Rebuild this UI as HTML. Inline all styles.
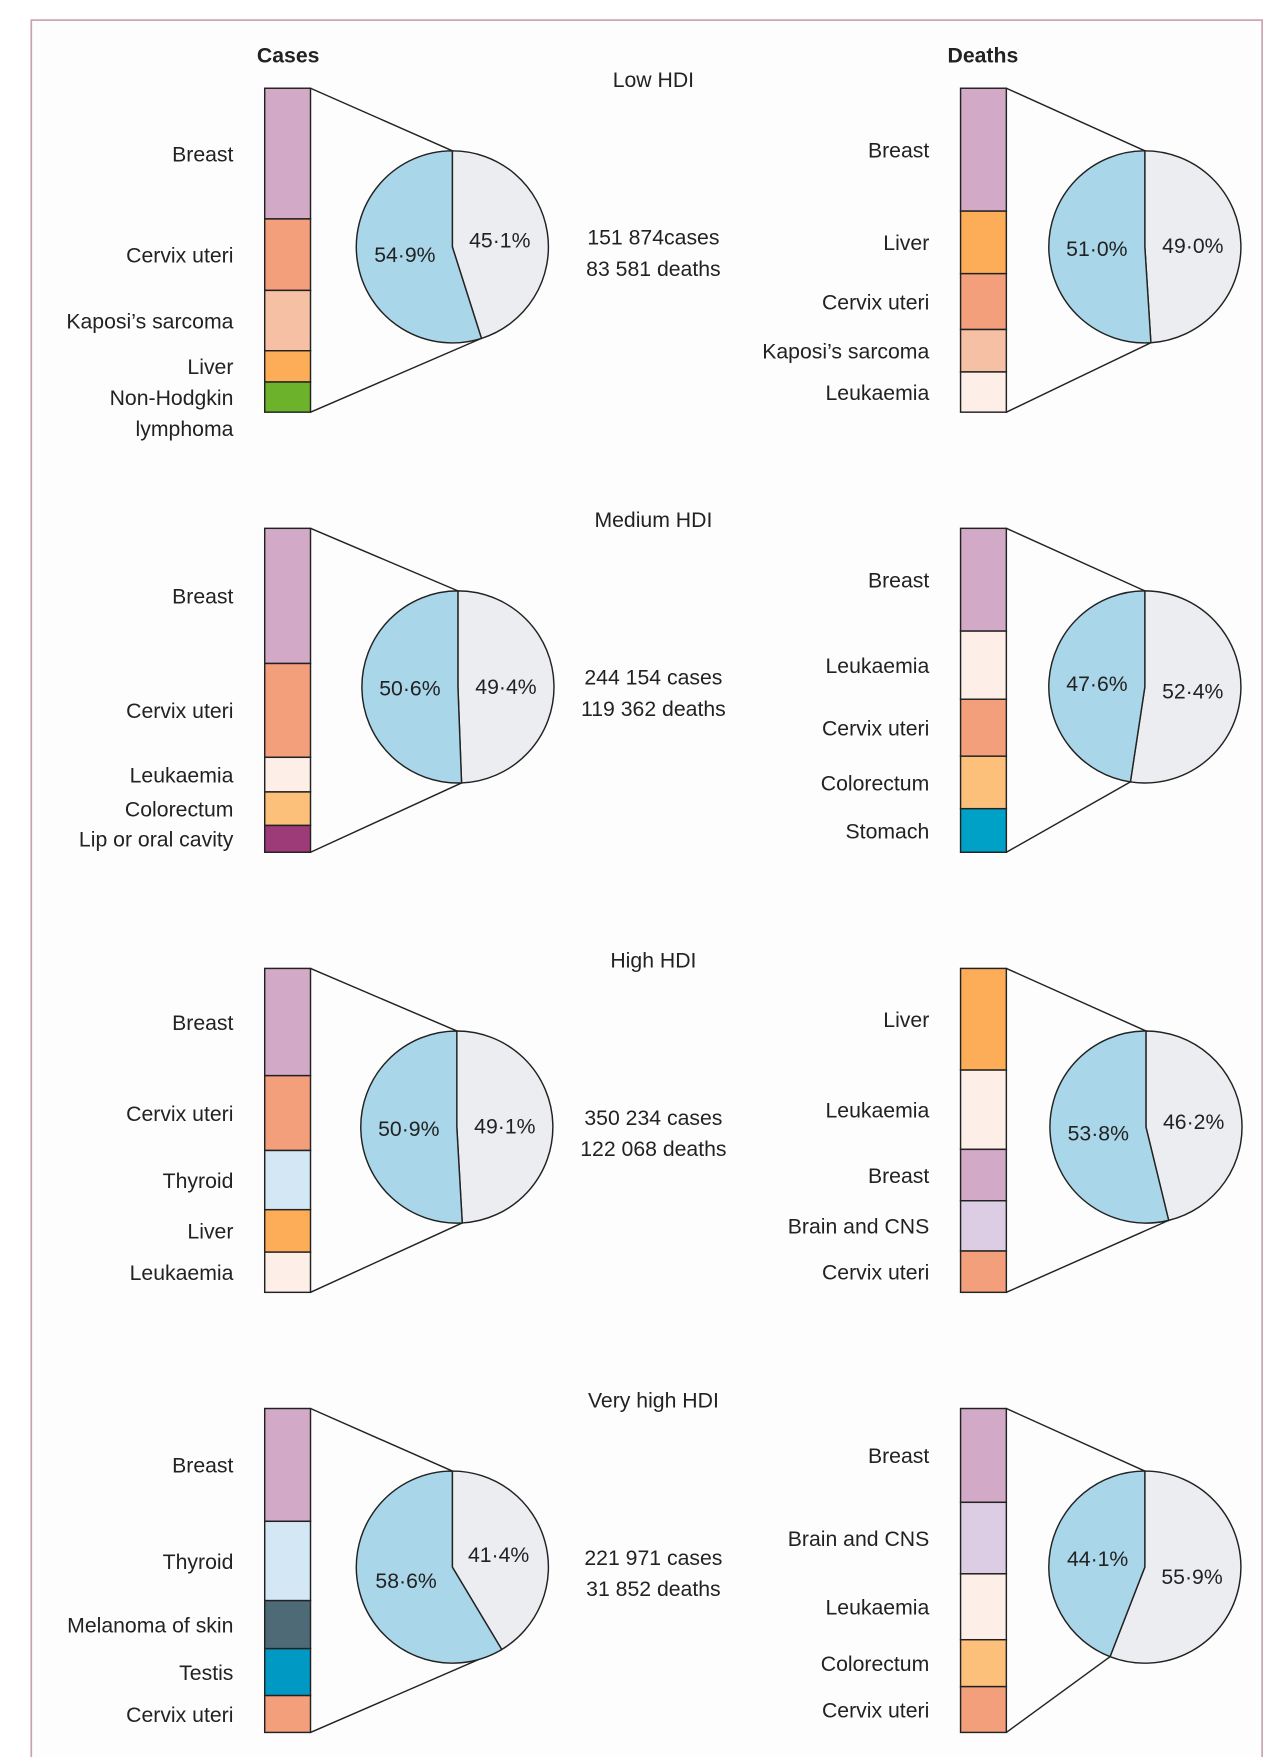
<!DOCTYPE html>
<html><head><meta charset="utf-8"><style>
html,body{margin:0;padding:0;background:#fff;}
svg{display:block;}
text{font-family:"Liberation Sans",sans-serif;fill:#222;}
</style></head><body>
<svg id="chart" width="1280" height="1757" viewBox="0 0 1146 1573" preserveAspectRatio="none" xmlns="http://www.w3.org/2000/svg">
<rect x="28" y="18" width="1102" height="1600" fill="#fdfdfe" stroke="#c9a3ab" stroke-width="1.5"/>
<text x="258" y="56" text-anchor="middle" font-size="19" font-weight="bold">Cases</text>
<text x="880" y="56" text-anchor="middle" font-size="19" font-weight="bold">Deaths</text>
</svg>
<script>
const panelTitles = ["Low HDI","Medium HDI","High HDI","Very high HDI"];
const casesTotals = ["151 874cases","244 154 cases","350 234 cases","221 971 cases"];
const deathsTotals = ["83 581 deaths","119 362 deaths","122 068 deaths","31 852 deaths"];
const casesPieGrey = [45.1,49.4,49.1,41.4];
const casesPieBlue = [54.9,50.6,50.9,58.6];
const deathsPieGrey = [49.0,52.4,46.2,55.9];
const deathsPieBlue = [51.0,47.6,53.8,44.1];
const lowCasesCats = ["Breast","Cervix uteri","Kaposi’s sarcoma","Liver","Non-Hodgkin|lymphoma"];
const lowCasesVals = [117,64,54,28,27];
const lowDeathsCats = ["Breast","Liver","Cervix uteri","Kaposi’s sarcoma","Leukaemia"];
const lowDeathsVals = [110,56,50,38,36];
const medCasesCats = ["Breast","Cervix uteri","Leukaemia","Colorectum","Lip or oral cavity"];
const medCasesVals = [121,84,31,30,24];
const medDeathsCats = ["Breast","Leukaemia","Cervix uteri","Colorectum","Stomach"];
const medDeathsVals = [92,61,51,47,39];
const highCasesCats = ["Breast","Cervix uteri","Thyroid","Liver","Leukaemia"];
const highCasesVals = [96,67,53,38,36];
const highDeathsCats = ["Liver","Leukaemia","Breast","Brain and CNS","Cervix uteri"];
const highDeathsVals = [91,71,46,45,37];
const vhCasesCats = ["Breast","Thyroid","Melanoma of skin","Testis","Cervix uteri"];
const vhCasesVals = [101,71,43,42,33];
const vhDeathsCats = ["Breast","Brain and CNS","Leukaemia","Colorectum","Cervix uteri"];
const vhDeathsVals = [84,64,59,42,41];

const colorMap = {"Breast":"#d3a9c8","Cervix uteri":"#f39f7c","Kaposi’s sarcoma":"#f6c0a4","Liver":"#fdad58","Non-Hodgkin|lymphoma":"#6cb22b","Leukaemia":"#fdeee7","Colorectum":"#fdc07a","Lip or oral cavity":"#9d3b78","Stomach":"#00a1c7","Thyroid":"#d3e8f4","Brain and CNS":"#dccde5","Melanoma of skin":"#4e6a77","Testis":"#0099c4"};

const svg = document.getElementById('chart');
const NS = "http://www.w3.org/2000/svg";
function mk(tag, attrs){const e=document.createElementNS(NS,tag);for(const k in attrs)e.setAttribute(k,attrs[k]);svg.appendChild(e);return e;}
function slug(s){return s.toLowerCase().replace(/[^a-z0-9]+/g,'-').replace(/^-|-$/g,'');}

const panelTop = [79,473,867,1261];
const barH = 290;
const casesPieCx = [405,410,409,405];
const deathsPieCx = [1025,1025,1026,1025];
const pieR = 86;

function drawColumn(p, cats, vals, barX, pieCx, grey, blue, side){
  const top = panelTop[p];
  const sum = vals.reduce((a,b)=>a+b,0);
  const scale = v => v/sum*barH;
  let y = top;
  cats.forEach((c,i)=>{
    const h = scale(vals[i]);
    const r = mk('rect',{x:barX,y:y,width:41,height:h,fill:colorMap[c],stroke:'#222','stroke-width':1.3});
    
    
    const lines = c.split('|');
    lines.forEach((ln,j)=>{
      const t = mk('text',{x:barX-28,y:y+h/2+7+j*28,'text-anchor':'end','font-size':19});
      t.textContent = ln;
      
      
    });
    y += h;
  });
  const cy = top+142;
  const a = grey/100*2*Math.PI;
  const px = pieCx + pieR*Math.sin(a), py = cy - pieR*Math.cos(a);
  const c1 = mk('line',{x1:barX+41,y1:top,x2:pieCx,y2:cy-pieR,stroke:'#222','stroke-width':1.3});
  
  
  const c2 = mk('line',{x1:barX+41,y1:top+barH,x2:px,y2:py,stroke:'#222','stroke-width':1.3});
  
  
  const large = grey>50?1:0;
  const gs = mk('path',{d:`M${pieCx},${cy} L${pieCx},${cy-pieR} A${pieR},${pieR} 0 ${large} 1 ${px},${py} Z`,fill:'#ebedf1',stroke:'#222','stroke-width':1.3});
  
  
  const bs = mk('path',{d:`M${pieCx},${cy} L${px},${py} A${pieR},${pieR} 0 ${blue>50?1:0} 1 ${pieCx},${cy-pieR} Z`,fill:'#a9d6e9',stroke:'#222','stroke-width':1.3});
  
  
  const ga = a/2, ba = a + (2*Math.PI-a)/2;
  const gt = mk('text',{x:pieCx+0.5*pieR*Math.sin(ga),y:cy-0.5*pieR*Math.cos(ga)+7,'text-anchor':'middle','font-size':19});
  gt.textContent = grey.toFixed(1).replace('.','·')+'%';
  
  
  const bt = mk('text',{x:pieCx+0.5*pieR*Math.sin(ba),y:cy-0.5*pieR*Math.cos(ba)+7,'text-anchor':'middle','font-size':19});
  bt.textContent = blue.toFixed(1).replace('.','·')+'%';
  
  
}

const casesSets = [[lowCasesCats,lowCasesVals],[medCasesCats,medCasesVals],[highCasesCats,highCasesVals],[vhCasesCats,vhCasesVals]];
const deathsSets = [[lowDeathsCats,lowDeathsVals],[medDeathsCats,medDeathsVals],[highDeathsCats,highDeathsVals],[vhDeathsCats,vhDeathsVals]];

for(let p=0;p<4;p++){
  drawColumn(p, casesSets[p][0], casesSets[p][1], 237, casesPieCx[p], casesPieGrey[p], casesPieBlue[p], 'cases');
  drawColumn(p, deathsSets[p][0], deathsSets[p][1], 860, deathsPieCx[p], deathsPieGrey[p], deathsPieBlue[p], 'deaths');
  const top = panelTop[p];
  const t = mk('text',{x:585,y:top-1,'text-anchor':'middle','font-size':19});
  t.textContent = panelTitles[p];
  
  
  const c = mk('text',{x:585,y:top+140,'text-anchor':'middle','font-size':19});
  c.textContent = casesTotals[p];
  
  
  const d = mk('text',{x:585,y:top+168,'text-anchor':'middle','font-size':19});
  d.textContent = deathsTotals[p];
  
  
}
</script>
</body></html>
